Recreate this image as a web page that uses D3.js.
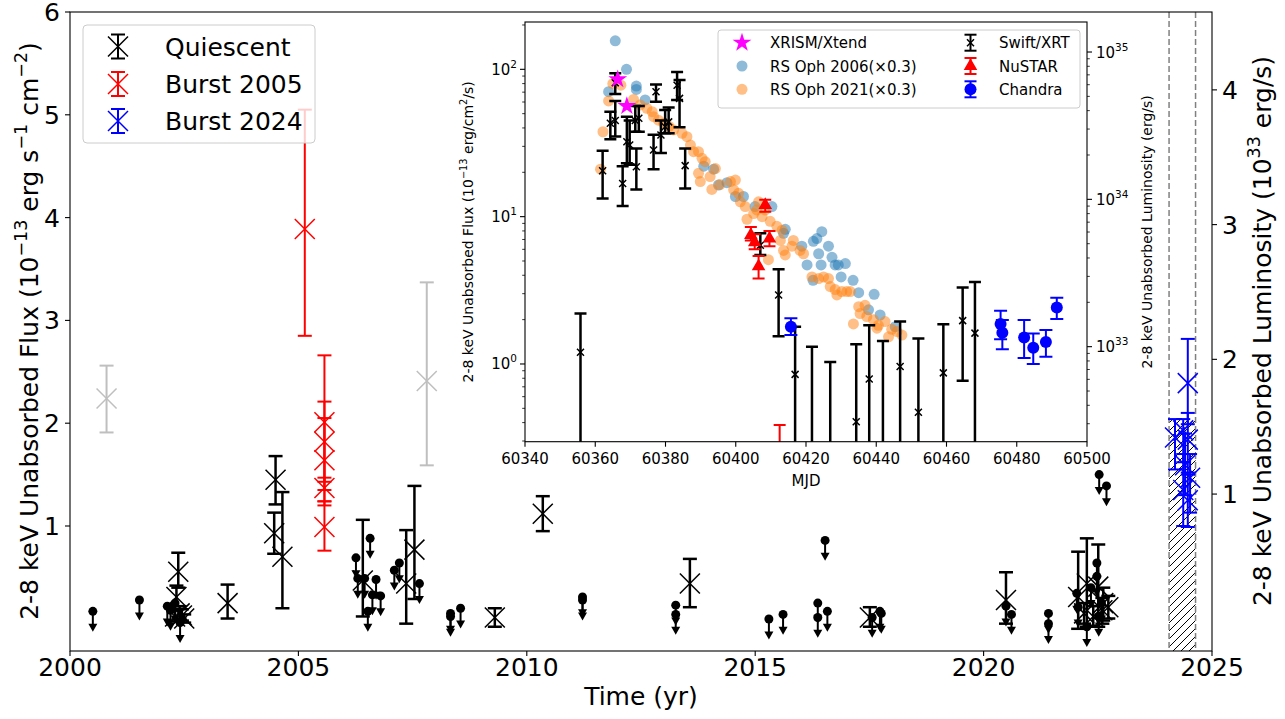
<!DOCTYPE html>
<html><head><meta charset="utf-8">
<script src="https://cdn.jsdelivr.net/npm/d3@7"></script>
<style>body{margin:0;background:#fff} svg{display:block} text{font-family:"DejaVu Sans",sans-serif;fill:#000}</style>
</head><body><svg id="c" width="1285" height="719"></svg>
<script>
// ---------------- MAIN PLOT DATA ----------------
const xTicks = [2000, 2005, 2010, 2015, 2020, 2025];
const yTicks = [1, 2, 3, 4, 5, 6];
const lumTicks = [1, 2, 3, 4];
const lumPerFlux = 0.763;

const quiYear = [2002.37,2002.33,2002.40,2002.45,2002.30,2002.50,2003.45,2004.50,2004.47,2004.65,2006.41,2007.36,2007.54,2009.30,2010.35,2013.57,2017.51,2020.49,2022.07,2022.26,2022.51,2022.73,2022.20,2022.40,2022.60,2022.62];
const quiFlux = [0.555,0.31,0.15,0.13,0.12,0.10,0.25,1.45,0.93,0.70,0.47,0.44,0.77,0.11,1.12,0.44,0.11,0.28,0.31,0.44,0.41,0.21,0.15,0.12,0.18,0.25];
const quiLow  = [0.40,0.22,0.10,0.08,0.07,0.06,0.10,1.21,0.73,0.20,0.12,0.05,0.29,0.02,0.95,0.21,0.02,0.05,0.00,0.02,0.02,0.10,0.05,0.03,0.05,0.08];
const quiHigh = [0.74,0.42,0.22,0.19,0.18,0.14,0.43,1.68,1.13,1.33,1.06,0.96,1.39,0.20,1.29,0.68,0.21,0.55,0.75,0.88,0.82,0.32,0.25,0.22,0.30,0.40];

const ulYear = [2000.50,2001.52,2002.13,2002.30,2002.41,2002.20,2006.26,2006.57,2006.30,2006.45,2006.62,2006.70,2006.80,2006.52,2007.10,2007.21,2007.65,2008.33,2008.33,2008.55,2011.22,2011.22,2013.26,2013.26,2015.30,2015.61,2016.37,2016.37,2016.53,2016.58,2017.56,2017.73,2017.76,2020.49,2020.61,2021.42,2021.42,2022.53,2022.69,2022.48,2022.48,2022.04,2022.07,2022.26,2022.52,2022.58,2022.35];
const ulFlux = [0.17,0.28,0.22,0.25,0.06,0.18,0.69,0.88,0.49,0.49,0.33,0.48,0.32,0.17,0.57,0.64,0.44,0.15,0.12,0.20,0.31,0.28,0.23,0.14,0.095,0.14,0.25,0.11,0.86,0.17,0.11,0.17,0.15,0.22,0.14,0.15,0.05,1.50,1.39,0.64,0.51,0.345,0.21,0.02,0.12,0.25,0.40];

const grayYear = [2000.80, 2007.81];
const grayFlux = [2.24, 2.41];
const grayLow  = [1.91, 1.59];
const grayHigh = [2.56, 3.37];

const b05Year = [2005.14,2005.57,2005.57,2005.57,2005.57,2005.57];
const b05Flux = [3.89,2.01,1.82,1.64,1.37,0.99];
const b05Low  = [2.85,1.43,1.35,1.24,1.20,0.76];
const b05High = [5.05,2.66,2.21,2.05,1.47,1.24];

const b24Year = [2024.19,2024.37,2024.47,2024.41,2024.52,2024.37,2024.47,2024.47];
const b24Flux = [1.86,1.93,2.39,1.59,1.47,1.35,1.25,1.84];
const b24Low  = [1.55,1.62,1.99,1.30,1.13,1.00,0.99,1.50];
const b24High = [2.04,2.04,2.82,1.90,1.70,1.70,1.52,2.10];

const hatchRange = [2024.06, 2024.64];
const hatchTop = 2.03;

const legendLabels = ["Quiescent", "Burst 2005", "Burst 2024"];
const legendColors = ["#000000", "#ff0000", "#0000ff"];

// ---------------- INSET DATA ----------------
const insetXTicks = [60340,60360,60380,60400,60420,60440,60460,60480,60500];

const swiftMJD  = [60355.8,60362.1,60365.7,60364.3,60365.7,60367.8,60369.0,60369.8,60371.7,60371.4,60372.4,60376.6,60377.3,60378.7,60379.9,60380.9,60383.3,60384.0,60385.6,60407.0,60412.2,60416.9,60421.7,60426.9,60434.3,60438.0,60441.9,60446.8,60452.0,60459.1,60464.6,60468.1];
const swiftFlux = [1.2,20.5,81,43,45,16.8,32.2,30.6,21.8,45,46.5,28.3,70.5,35.8,40.8,44,78,63.5,22.2,6.4,2.94,0.85,0.1,0.1,0.405,0.79,0.1,0.96,0.47,0.87,1.97,1.62];
const swiftLow  = [0.01,13.3,68,33.5,35,11.8,23,22.5,15.3,37.7,37.7,21,60.3,27,36.8,36.8,62,40.4,15.5,5.5,1.54,0.01,0.01,0.01,0.01,0.01,0.01,0.01,0.01,0.01,0.77,0.01];
const swiftHigh = [2.2,28,94,51.5,61,22,47.6,45,29,56.3,56.3,35.9,79,45,53,55,96,84.6,29,7.7,4.4,1.79,1.31,1.03,1.36,1.83,1.43,1.94,1.49,1.86,3.3,3.6];

const nuMJD  = [60404.3,60405.4,60406.5,60408.4,60409.6,60412.5];
const nuFlux = [7.5,6.7,4.6,12,7.1,0.1];
const nuLow  = [6.9,6.0,3.8,10.8,6.3,0.01];
const nuHigh = [8.5,7.6,5.4,13.0,8.0,0.385];

const chMJD  = [60415.7,60475.4,60475.9,60482.1,60484.7,60488.3,60491.4];
const chFlux = [1.79,1.87,1.63,1.51,1.29,1.41,2.42];
const chLow  = [1.57,1.47,1.26,1.10,1.00,1.12,2.02];
const chHigh = [2.04,2.30,1.99,1.99,1.61,1.70,2.82];

const xrMJD  = [60366.4, 60369.0];
const xrFlux = [85.5, 56.3];

const rs06MJD  = [60365.7,60368.9,60371.7,60371.7,60363.8,60374.2,60390.9,60393.7,60395.1,60397.5,60399.9,60402.2,60405.5,60410.3,60413.6,60414.1,60418.8,60420.3,60422.1,60423.1,60424.5,60423.6,60424.3,60426.4,60427.4,60428.3,60429.2,60431.2,60422.0,60430.0,60433.4,60435.0,60439.4,60437.8,60441.1,60445.4];
const rs06Flux = [156,100,77,73,70.5,62,22,21,16.4,17,13.7,13.7,11.7,11.7,7.7,8.2,6.3,4.7,6.8,7.1,7.9,5.6,4.7,6.3,5.3,4.7,4.7,4.8,3.7,3.9,3.7,3.05,2.97,2.33,2.15,1.79];

const rs21MJD  = [60361.5,60362.2,60363.8,60367.3,60370.9,60372.8,60374.7,60376.2,60376.6,60378.0,60379.5,60381.0,60382.3,60384.7,60386.1,60387.1,60388.0,60389.4,60390.4,60391.3,60389.4,60389.9,60392.7,60394.2,60393.2,60398.5,60399.4,60399.9,60400.8,60401.3,60402.7,60403.2,60405.1,60406.5,60406.0,60407.5,60408.4,60409.8,60411.7,60413.2,60412.7,60413.6,60414.1,60409.3,60416.0,60416.4,60418.3,60419.3,60421.7,60423.6,60425.0,60426.4,60426.9,60428.3,60428.8,60430.2,60431.6,60432.6,60435.0,60436.8,60435.4,60437.3,60439.2,60440.6,60442.5,60433.5,60440.2,60444.4,60445.9,60447.3,60443.5,60365.0,60395.5];
const rs21Flux = [21,37.7,61,78,62.5,57.3,54.4,51.6,47.7,45.2,43,41,38.8,36.8,34.9,30.6,27.6,27.6,24.9,23.6,19.7,17.3,18.7,21.2,15.3,17.3,15.2,17.7,14.4,12.6,11.7,9.6,10.5,12.6,11.1,10,11.1,9.3,8.6,8.1,6.9,5.9,5.5,5.1,6.3,6.9,5.9,5.6,3.9,3.8,3.9,3.8,3.35,3.2,2.94,3.1,3.1,3.1,2.45,2.5,2.2,2.1,2.0,1.83,1.94,1.87,1.75,1.72,1.66,1.57,1.53,80,16.5];

const insetLegend1 = ["XRISM/Xtend", "RS Oph 2006(\u00d70.3)", "RS Oph 2021(\u00d70.3)"];
const insetLegend2 = ["Swift/XRT", "NuSTAR", "Chandra"];

// ---------------- DRAWING ----------------
const svg = d3.select("#c");
const FONT = 25, IFONT = 15;

const x = d3.scaleLinear().domain([2000, 2025]).range([70, 1212]);
const y = d3.scaleLinear().domain([-0.216, 6]).range([651, 12]);
const yR = d3.scaleLinear().domain([-0.216 * lumPerFlux, 6 * lumPerFlux]).range([651, 12]);

const defs = svg.append("defs");
defs.append("clipPath").attr("id", "mainClip").append("rect")
  .attr("x", 70).attr("y", 12).attr("width", 1142).attr("height", 639);
const pat = defs.append("pattern").attr("id", "hatch").attr("patternUnits", "userSpaceOnUse")
  .attr("width", 8).attr("height", 8);
pat.append("path").attr("d", "M-2,2 L2,-2 M0,8 L8,0 M6,10 L10,6")
  .attr("stroke", "#000").attr("stroke-width", 1);

const main = svg.append("g").attr("clip-path", "url(#mainClip)");

function xPath(cx, cy, h) {
  return `M${cx-h},${cy-h}L${cx+h},${cy+h}M${cx-h},${cy+h}L${cx+h},${cy-h}`;
}

function errGroup(g, xs, fs, lo, hi, xs_, ys_, opt) {
  const gg = g.append("g");
  xs.forEach((v, i) => {
    const cx = xs_(v);
    const y1 = ys_(Math.max(lo[i], opt.floor || -1e9)), y2 = ys_(hi[i]);
    gg.append("line").attr("x1", cx).attr("x2", cx).attr("y1", y1).attr("y2", y2)
      .attr("stroke", opt.color).attr("stroke-width", opt.elw);
    [y1, y2].forEach(yy => gg.append("line").attr("x1", cx - opt.cap).attr("x2", cx + opt.cap)
      .attr("y1", yy).attr("y2", yy).attr("stroke", opt.color).attr("stroke-width", opt.elw));
  });
  xs.forEach((v, i) => {
    const cx = xs_(v), cy = ys_(fs[i]);
    if (opt.marker === "x") {
      gg.append("path").attr("d", xPath(cx, cy, opt.ms)).attr("stroke", opt.color)
        .attr("stroke-width", opt.mlw).attr("fill", "none");
    } else if (opt.marker === "o") {
      gg.append("circle").attr("cx", cx).attr("cy", cy).attr("r", opt.ms).attr("fill", opt.color);
    } else if (opt.marker === "^") {
      gg.append("path").attr("d", d3.symbol().type(d3.symbolTriangle).size(opt.ms)())
        .attr("transform", `translate(${cx},${cy})`).attr("fill", opt.color);
    }
  });
  return gg;
}

// gray
errGroup(main, grayYear, grayFlux, grayLow, grayHigh, x, y,
  {color: "#bfbfbf", elw: 2, cap: 7, marker: "x", ms: 10, mlw: 1.5});
// upper limits
const ulArrow = 0.13;
ulYear.forEach((v, i) => {
  const cx = x(v), cy = y(ulFlux[i]), ye = y(ulFlux[i] - ulArrow);
  main.append("line").attr("x1", cx).attr("x2", cx).attr("y1", cy).attr("y2", ye)
    .attr("stroke", "#000").attr("stroke-width", 2);
  main.append("path").attr("d", `M${cx-4.5},${ye-1}L${cx+4.5},${ye-1}L${cx},${ye+7}Z`).attr("fill", "#000");
  main.append("circle").attr("cx", cx).attr("cy", cy).attr("r", 4.5).attr("fill", "#000");
});
// quiescent
errGroup(main, quiYear, quiFlux, quiLow, quiHigh, x, y,
  {color: "#000", elw: 2.5, cap: 7, marker: "x", ms: 10, mlw: 1.5});
// burst 2005
errGroup(main, b05Year, b05Flux, b05Low, b05High, x, y,
  {color: "#ff0000", elw: 2, cap: 7, marker: "x", ms: 10, mlw: 1.5});

// hatch region
main.append("rect").attr("x", x(hatchRange[0])).attr("width", x(hatchRange[1]) - x(hatchRange[0]))
  .attr("y", y(hatchTop)).attr("height", 651 - y(hatchTop)).attr("fill", "url(#hatch)");
hatchRange.forEach(v => main.append("line").attr("x1", x(v)).attr("x2", x(v)).attr("y1", 12).attr("y2", 651)
  .attr("stroke", "#808080").attr("stroke-width", 1.5).attr("stroke-dasharray", "6,3"));

// burst 2024
errGroup(main, b24Year, b24Flux, b24Low, b24High, x, y,
  {color: "#0000ff", elw: 2, cap: 7, marker: "x", ms: 10, mlw: 1.5});

// main axes frame
svg.append("rect").attr("x", 70).attr("y", 12).attr("width", 1142).attr("height", 639)
  .attr("fill", "none").attr("stroke", "#000").attr("stroke-width", 1.1);

const ax = svg.append("g");
xTicks.forEach(t => {
  ax.append("line").attr("x1", x(t)).attr("x2", x(t)).attr("y1", 651).attr("y2", 656).attr("stroke", "#000").attr("stroke-width", 1.1);
  ax.append("text").attr("x", x(t)).attr("y", 676).attr("text-anchor", "middle").attr("font-size", FONT).text(t);
});
yTicks.forEach(t => {
  ax.append("line").attr("x1", 65).attr("x2", 70).attr("y1", y(t)).attr("y2", y(t)).attr("stroke", "#000").attr("stroke-width", 1.1);
  ax.append("text").attr("x", 60).attr("y", y(t) + 9).attr("text-anchor", "end").attr("font-size", FONT).text(t);
});
lumTicks.forEach(t => {
  ax.append("line").attr("x1", 1212).attr("x2", 1217).attr("y1", yR(t)).attr("y2", yR(t)).attr("stroke", "#000").attr("stroke-width", 1.1);
  ax.append("text").attr("x", 1222).attr("y", yR(t) + 9).attr("text-anchor", "start").attr("font-size", FONT).text(t);
});
ax.append("text").attr("x", 641).attr("y", 705).attr("text-anchor", "middle").attr("font-size", FONT).text("Time (yr)");

function richText(g, parts, fs) {
  // parts: [text, isSup]
  const t = g.append("text").attr("font-size", fs).attr("text-anchor", "middle");
  let up = false;
  parts.forEach(([s, sup]) => {
    const ts = t.append("tspan").text(s);
    if (sup && !up) { ts.attr("dy", -0.45 * fs).attr("font-size", 0.7 * fs); up = true; }
    else if (sup) { ts.attr("font-size", 0.7 * fs); }
    else if (!sup && up) { ts.attr("dy", 0.45 * fs); up = false; }
  });
  return t;
}
richText(ax, [["2-8 keV Unabsorbed Flux (10"], ["\u221213", 1], [" erg s"], ["\u22121", 1], [" cm"], ["\u22122", 1], [")"]], FONT)
  .attr("transform", "translate(38,331) rotate(-90)");
richText(ax, [["2-8 keV Unabsorbed Luminosity (10"], ["33", 1], [" erg/s)"]], FONT)
  .attr("transform", "translate(1271,331) rotate(-90)");

// main legend
const lg = svg.append("g");
lg.append("rect").attr("x", 83).attr("y", 25).attr("width", 232).attr("height", 118).attr("rx", 4)
  .attr("fill", "#fff").attr("fill-opacity", 0.8).attr("stroke", "#cccccc").attr("stroke-width", 1);
legendLabels.forEach((lab, i) => {
  const cy = [46.5, 84, 121][i], cx = 118, c = legendColors[i];
  lg.append("line").attr("x1", cx).attr("x2", cx).attr("y1", cy - 12).attr("y2", cy + 12).attr("stroke", c).attr("stroke-width", 2);
  [cy - 12, cy + 12].forEach(yy => lg.append("line").attr("x1", cx - 7).attr("x2", cx + 7).attr("y1", yy).attr("y2", yy).attr("stroke", c).attr("stroke-width", 2));
  lg.append("path").attr("d", xPath(cx, cy, 10)).attr("stroke", c).attr("stroke-width", 1.5).attr("fill", "none");
  lg.append("text").attr("x", 165).attr("y", cy + 9).attr("font-size", FONT).text(lab);
});

// ---------------- INSET ----------------
const IL = 525, IR = 1087, IT = 22, IB = 441.7;
const xi = d3.scaleLinear().domain([60340, 60500]).range([IL, IR]);
const yi = d3.scaleLog().domain([0.2968, 209.5]).range([IB, IT]);
const yiR = d3.scaleLog().domain([0.2968 * lumPerFlux * 1e33, 209.5 * lumPerFlux * 1e33]).range([IB, IT]);

const ins = svg.append("g");
ins.append("rect").attr("x", IL).attr("y", IT).attr("width", IR - IL).attr("height", IB - IT).attr("fill", "#fff");
defs.append("clipPath").attr("id", "insClip").append("rect")
  .attr("x", IL).attr("y", IT).attr("width", IR - IL).attr("height", IB - IT);
const ig = ins.append("g").attr("clip-path", "url(#insClip)");

// scatter RS Oph
rs06MJD.forEach((m, i) => ig.append("circle").attr("cx", xi(m)).attr("cy", yi(rs06Flux[i])).attr("r", 5.5)
  .attr("fill", "#1f77b4").attr("fill-opacity", 0.5));
rs21MJD.forEach((m, i) => ig.append("circle").attr("cx", xi(m)).attr("cy", yi(rs21Flux[i])).attr("r", 5.5)
  .attr("fill", "#ff7f0e").attr("fill-opacity", 0.5));

errGroup(ig, swiftMJD, swiftFlux, swiftLow, swiftHigh, xi, yi,
  {color: "#000", elw: 2.5, cap: 6, marker: "x", ms: 3.5, mlw: 1.5});
errGroup(ig, nuMJD, nuFlux, nuLow, nuHigh, xi, yi,
  {color: "#ff0000", elw: 2, cap: 6, marker: "^", ms: 80});
errGroup(ig, chMJD, chFlux, chLow, chHigh, xi, yi,
  {color: "#0000ff", elw: 2, cap: 6.5, marker: "o", ms: 6});
xrMJD.forEach((m, i) => ig.append("path").attr("d", d3.symbol().type(d3.symbolStar).size(110)())
  .attr("transform", `translate(${xi(m)},${yi(xrFlux[i])})`).attr("fill", "#ff00ff"));

ins.append("rect").attr("x", IL).attr("y", IT).attr("width", IR - IL).attr("height", IB - IT)
  .attr("fill", "none").attr("stroke", "#000").attr("stroke-width", 1.1);

// inset ticks
insetXTicks.forEach(t => {
  ins.append("line").attr("x1", xi(t)).attr("x2", xi(t)).attr("y1", IB).attr("y2", IB + 5).attr("stroke", "#000").attr("stroke-width", 1.1);
  ins.append("text").attr("x", xi(t)).attr("y", IB + 22).attr("text-anchor", "middle").attr("font-size", IFONT).text(t);
});
ins.append("text").attr("x", (IL + IR) / 2).attr("y", IB + 44).attr("text-anchor", "middle").attr("font-size", IFONT).text("MJD");

function logTicks(scale, side) {
  const [d0, d1] = scale.domain();
  const e0 = Math.floor(Math.log10(d0)), e1 = Math.ceil(Math.log10(d1));
  for (let e = e0; e <= e1; e++) {
    for (let k = 1; k <= 9; k++) {
      const v = k * Math.pow(10, e);
      if (v < d0 || v > d1) continue;
      const yy = scale(v), len = k === 1 ? 5 : 2.8;
      const xa = side === "left" ? IL : IR, xb = side === "left" ? IL - len : IR + len;
      ins.append("line").attr("x1", xa).attr("x2", xb).attr("y1", yy).attr("y2", yy).attr("stroke", "#000").attr("stroke-width", k === 1 ? 1.1 : 0.8);
      if (k === 1) {
        const t = ins.append("text").attr("font-size", IFONT).attr("y", yy + 5.5)
          .attr("x", side === "left" ? IL - 8 : IR + 9).attr("text-anchor", side === "left" ? "end" : "start");
        t.append("tspan").text("10");
        t.append("tspan").attr("dy", -7).attr("font-size", IFONT * 0.7).text(e);
      }
    }
  }
}
logTicks(yi, "left");
logTicks(yiR, "right");

function richText2(parts, fs, tx, ty) {
  const t = ins.append("text").attr("font-size", fs).attr("text-anchor", "middle")
    .attr("transform", `translate(${tx},${ty}) rotate(-90)`);
  let up = false;
  parts.forEach(([s, sup]) => {
    const ts = t.append("tspan").text(s);
    if (sup && !up) { ts.attr("dy", -0.45 * fs).attr("font-size", 0.7 * fs); up = true; }
    else if (!sup && up) { ts.attr("dy", 0.45 * fs); up = false; }
  });
}
richText2([["2-8 keV Unabsorbed Flux (10"], ["\u221213", 1], [" erg/cm"], ["2", 1], ["/s)"]], 14, 473, (IT + IB) / 2);
richText2([["2-8 keV Unabsorbed Luminosity (erg/s)"]], 14, 1152, (IT + IB) / 2);

// inset legend
const il = ins.append("g");
il.append("rect").attr("x", 718).attr("y", 30).attr("width", 362).attr("height", 78).attr("rx", 3)
  .attr("fill", "#fff").attr("fill-opacity", 0.8).attr("stroke", "#cccccc").attr("stroke-width", 1);
const rows = [42.7, 66, 89.3];
insetLegend1.forEach((lab, i) => {
  const cy = rows[i];
  if (i === 0) il.append("path").attr("d", d3.symbol().type(d3.symbolStar).size(110)()).attr("transform", `translate(742,${cy})`).attr("fill", "#ff00ff");
  else il.append("circle").attr("cx", 742).attr("cy", cy).attr("r", 5.5).attr("fill", i === 1 ? "#1f77b4" : "#ff7f0e").attr("fill-opacity", 0.5);
  il.append("text").attr("x", 770).attr("y", cy + 5.5).attr("font-size", IFONT).text(lab);
});
insetLegend2.forEach((lab, i) => {
  const cy = rows[i], cx = 970.5, c = ["#000", "#ff0000", "#0000ff"][i];
  il.append("line").attr("x1", cx).attr("x2", cx).attr("y1", cy - 8).attr("y2", cy + 8).attr("stroke", c).attr("stroke-width", 2);
  [cy - 8, cy + 8].forEach(yy => il.append("line").attr("x1", cx - 6).attr("x2", cx + 6).attr("y1", yy).attr("y2", yy).attr("stroke", c).attr("stroke-width", 2));
  if (i === 0) il.append("path").attr("d", xPath(cx, cy, 3.5)).attr("stroke", c).attr("stroke-width", 1.5).attr("fill", "none");
  else if (i === 1) il.append("path").attr("d", d3.symbol().type(d3.symbolTriangle).size(80)()).attr("transform", `translate(${cx},${cy})`).attr("fill", c);
  else il.append("circle").attr("cx", cx).attr("cy", cy).attr("r", 6).attr("fill", c);
  il.append("text").attr("x", 999).attr("y", cy + 5.5).attr("font-size", IFONT).text(lab);
});
</script></body></html>
